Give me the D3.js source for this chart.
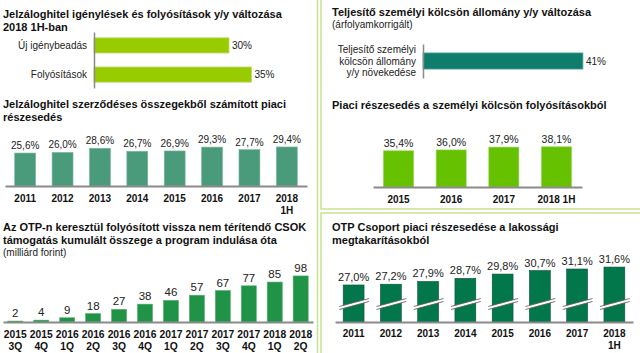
<!DOCTYPE html>
<html>
<head>
<meta charset="utf-8">
<script src="https://cdn.jsdelivr.net/npm/d3@7/dist/d3.min.js"></script>
<style>
  body { margin: 0; background: #fff; }
  svg { display: block; font-family: "Liberation Sans", Arial, sans-serif; }
  .title { font-weight: bold; font-size: 11px; fill: #111; }
  .sub { font-size: 10px; fill: #222; }
  .val { fill: #222; }
  .tick text { font-weight: bold; fill: #111; }
</style>
</head>
<body>
<svg id="chart" width="640" height="353"></svg>
<script>
// ---- data ----
const mortgageCats = ["Új igénybeadás", "Folyósítások"];
const mortgageVals = [30, 35];

const shareYears = ["2011", "2012", "2013", "2014", "2015", "2016", "2017", "2018\n1H"];
const shareVals = [25.6, 26.0, 28.6, 26.7, 26.9, 29.3, 27.7, 29.4];

const csokQuarters = ["2015\n3Q", "2015\n4Q", "2016\n1Q", "2016\n2Q", "2016\n3Q", "2016\n4Q",
  "2017\n1Q", "2017\n2Q", "2017\n3Q", "2017\n4Q", "2018\n1Q", "2018\n2Q"];
const csokVals = [2, 4, 9, 18, 27, 38, 46, 57, 67, 77, 85, 98];

const personalCats = ["Teljesítő személyi\nkölcsön állomány\ny/y növekedése"];
const personalVals = [41];

const loanYears = ["2015", "2016", "2017", "2018 1H"];
const loanVals = [35.4, 36.0, 37.9, 38.1];

const savingsYears = ["2011", "2012", "2013", "2014", "2015", "2016", "2017", "2018\n1H"];
const savingsVals = [27.0, 27.2, 27.9, 28.7, 29.8, 30.7, 31.1, 31.6];

const huLocale = d3.formatLocale({ decimal: ",", thousands: " ", grouping: [3], currency: ["", ""] });
const pct1 = v => huLocale.format(".1f")(v) + "%";
const pct0 = v => huLocale.format(".0f")(v) + "%";

const svg = d3.select("#chart");
const frame = "#c6e28f";

// panel frames
svg.append("rect").attr("x", -5).attr("y", -5).attr("width", 322.5).attr("height", 365)
  .attr("fill", "none").attr("stroke", frame).attr("stroke-width", 1.5);
svg.append("rect").attr("x", 321).attr("y", -5).attr("width", 330).attr("height", 214)
  .attr("fill", "none").attr("stroke", frame).attr("stroke-width", 1.5);
svg.append("rect").attr("x", 321).attr("y", 213).attr("width", 330).attr("height", 150)
  .attr("fill", "none").attr("stroke", frame).attr("stroke-width", 1.5);

function title(x, y, lines, cls) {
  const t = svg.append("text").attr("class", cls || "title").attr("x", x).attr("y", y);
  lines.forEach((l, i) => t.append("tspan").attr("x", x).attr("dy", i ? 12.5 : 0).text(l));
}

// vertical bar chart
function barChart(cfg) {
  const x = d3.scaleBand().domain(cfg.cats).range(cfg.xr)
    .paddingInner(cfg.pi).paddingOuter(cfg.po);
  const y = d3.scaleLinear().domain(cfg.domain).range([cfg.base, cfg.base - cfg.h]);
  const g = svg.append("g");

  g.selectAll(".bar").data(cfg.vals).enter().append("rect")
    .attr("class", "bar")
    .attr("x", (d, i) => x(cfg.cats[i]))
    .attr("y", d => y(d))
    .attr("width", x.bandwidth())
    .attr("height", d => cfg.base - y(d))
    .attr("fill", cfg.color)
    .attr("stroke", cfg.stroke || "none")
    .attr("stroke-width", 0.6);

  g.selectAll(".val").data(cfg.vals).enter().append("text")
    .attr("class", "val")
    .attr("x", (d, i) => x(cfg.cats[i]) + x.bandwidth() / 2)
    .attr("y", d => y(d) - 4)
    .attr("text-anchor", "middle")
    .style("font-size", cfg.valSize + "px")
    .text(cfg.fmt);

  const axis = g.append("g").attr("transform", `translate(0,${cfg.base})`)
    .call(d3.axisBottom(x).tickSize(0).tickSizeOuter(0).tickPadding(cfg.pad));
  axis.select(".domain").attr("stroke", "#8a8a8a").attr("stroke-width", 2);
  axis.selectAll(".tick text").style("font-size", cfg.tickSize + "px").attr("dy", "0.71em")
    .each(function (d) {
      const el = d3.select(this).text(null);
      d.split("\n").forEach((l, i) => el.append("tspan").attr("x", 0).attr("dy", i ? "1.15em" : "0.71em").text(l));
    });
  return { x, y, g };
}

// horizontal bar chart
function hbarChart(cfg) {
  const y = d3.scaleBand().domain(cfg.cats).range(cfg.yr).paddingInner(cfg.pi).paddingOuter(cfg.po);
  const x = d3.scaleLinear().domain(cfg.domain).range(cfg.xr);
  const g = svg.append("g");

  g.selectAll(".bar").data(cfg.vals).enter().append("rect")
    .attr("x", x(0))
    .attr("y", (d, i) => y(cfg.cats[i]))
    .attr("width", d => x(d) - x(0))
    .attr("height", y.bandwidth())
    .attr("fill", cfg.color)
    .attr("stroke", cfg.stroke)
    .attr("stroke-width", 0.8);

  g.selectAll(".val").data(cfg.vals).enter().append("text")
    .attr("class", "val")
    .attr("x", d => x(d) + 3)
    .attr("y", (d, i) => y(cfg.cats[i]) + y.bandwidth() / 2)
    .attr("dy", "0.35em")
    .style("font-size", "10px")
    .text(pct0);

  const axis = g.append("g").attr("transform", `translate(${x(0)},0)`)
    .call(d3.axisLeft(y).tickSize(0).tickSizeOuter(0).tickPadding(7));
  axis.select(".domain").attr("stroke", "#8a8a8a").attr("stroke-width", 1.5);
  axis.selectAll(".tick text").style("font-size", "10px").style("font-weight", "normal").style("fill", "#222")
    .each(function (d) {
      const lines = d.split("\n");
      const el = d3.select(this).text(null).attr("dy", null);
      lines.forEach((l, i) => el.append("tspan").attr("x", -7)
        .attr("dy", i ? "1.15em" : (0.35 - (lines.length - 1) * 0.575) + "em").text(l));
    });
}

// ---- top left ----
title(3, 18, ["Jelzáloghitel igénylések és folyósítások y/y változása", "2018 1H-ban"]);
hbarChart({
  cats: mortgageCats, vals: mortgageVals, domain: [0, 40], xr: [94, 274],
  yr: [32, 88], pi: 0.48, po: 0.2, color: "#99cc00", stroke: "#bcdc66"
});

// ---- middle left ----
title(3, 108, ["Jelzáloghitel szerződéses összegekből számított piaci", "részesedés"]);
barChart({
  cats: shareYears, vals: shareVals, xr: [5, 307], pi: 0.44, po: 0.26,
  domain: [5, 30], base: 186, h: 40, color: "#4a9b7b", stroke: "#7ab8a0",
  fmt: pct1, valSize: 10, tickSize: 10, pad: 9
});

// ---- bottom left ----
title(3, 231, ["Az OTP-n keresztül folyósított vissza nem térítendő CSOK",
  "támogatás kumulált összege a program indulása óta"]);
title(3, 256, ["(milliárd forint)"], "sub");
barChart({
  cats: csokQuarters, vals: csokVals, xr: [3, 313], pi: 0.42, po: 0.185,
  domain: [0, 100], base: 322, h: 47, color: "#209346", stroke: "#56b070",
  fmt: d => d, valSize: 11.5, tickSize: 10.3, pad: 9
});

// ---- top right ----
title(332, 16, ["Teljesítő személyi kölcsön állomány y/y változása"]);
title(332, 28, ["(árfolyamkorrigált)"], "sub");
hbarChart({
  cats: personalCats, vals: personalVals, domain: [0, 50], xr: [423, 618],
  yr: [44, 78], pi: 0.3, po: 0.39, color: "#0f7d6c", stroke: "#4a9e90"
});

title(332, 109, ["Piaci részesedés a személyi kölcsön folyósításokból"]);
barChart({
  cats: loanYears, vals: loanVals, xr: [373, 582], pi: 0.43, po: 0.2,
  domain: [11, 40], base: 187, h: 43, color: "#66c200", stroke: "#8fd44d",
  fmt: pct1, valSize: 10.5, tickSize: 10, pad: 9
});

// ---- bottom right ----
title(332, 231, ["OTP Csoport piaci részesedése a lakossági", "megtakarításokból"]);
const sav = barChart({
  cats: savingsYears, vals: savingsVals, xr: [335, 633], pi: 0.44, po: 0.22,
  domain: [17.5, 32], base: 322, h: 56.5, color: "#03774c", stroke: "#0a4f33",
  fmt: pct1, valSize: 11, tickSize: 10, pad: 8
});

// axis break marks across each bar
const brk = sav.g.selectAll(".brk").data(savingsYears).enter().append("g").attr("class", "brk");
brk.each(function (c) {
  const x0 = sav.x(c) - 4, x1 = sav.x(c) + sav.x.bandwidth() + 5, yc = 304;
  const yl = yc + 4, yr = yc - 4;
  const el = d3.select(this);
  el.append("path").attr("d", `M${x0},${yl - 1.5}L${x1},${yr - 1.5}L${x1},${yr + 1.5}L${x0},${yl + 1.5}Z`)
    .attr("fill", "#fff");
  [-1.5, 1.5].forEach(o => el.append("line")
    .attr("x1", x0).attr("y1", yl + o).attr("x2", x1).attr("y2", yr + o)
    .attr("stroke", "#555").attr("stroke-width", 0.8));
});
</script>
</body>
</html>
